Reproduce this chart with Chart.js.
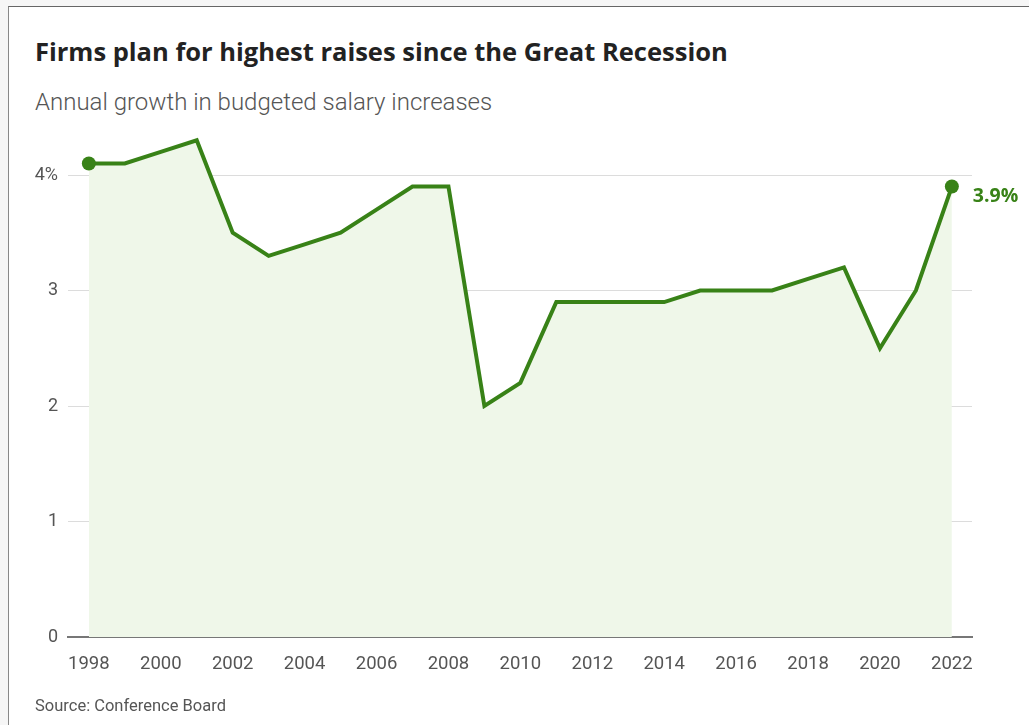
<!DOCTYPE html>
<html>
<head>
<meta charset="utf-8">
<script src="https://cdn.jsdelivr.net/npm/chart.js@4/dist/chart.umd.min.js"></script>
<style>
	html, body { margin: 0; padding: 0; }
	body { width: 1029px; height: 725px; overflow: hidden; background: #f6f6f6; position: relative; font-family: Roboto, "Liberation Sans", sans-serif; }
	#frame { position: absolute; left: 8px; top: 6px; width: 1100px; height: 800px; background: #fff; border-top: 1px solid #666; border-left: 1px solid #888; }
	#chart-container { position: absolute; left: 0; top: 0; width: 1029px; height: 725px; }
	.txt { position: absolute; left: 35px; line-height: 1; white-space: nowrap; }
	#title { top: 38.5px; font-family: "Open Sans", Roboto, sans-serif; font-size: 25.5px; font-weight: 700; color: #222; }
	#subtitle { top: 90px; font-size: 24px; font-weight: 300; color: #555; }
	#source { top: 698px; font-size: 16.5px; color: #555; }
</style>
</head>
<body>
<div id="frame"></div>
<div class="txt" id="title">Firms plan for highest raises since the Great Recession</div>
<div class="txt" id="subtitle">Annual growth in budgeted salary increases</div>
<div id="chart-container"><canvas id="chart" width="1029" height="725"></canvas></div>
<div class="txt" id="source">Source: Conference Board</div>
<script>
	// budgeted salary increase, percent (Conference Board)
	var years = [1998, 1999, 2000, 2001, 2002, 2003, 2004, 2005, 2006, 2007, 2008, 2009, 2010,
		2011, 2012, 2013, 2014, 2015, 2016, 2017, 2018, 2019, 2020, 2021, 2022];
	var raises = [4.1, 4.1, 4.2, 4.3, 3.5, 3.3, 3.4, 3.5, 3.7, 3.9, 3.9, 2.0, 2.2,
		2.9, 2.9, 2.9, 2.9, 3.0, 3.0, 3.0, 3.1, 3.2, 2.5, 3.0, 3.9];
	var yTicks = [0, 1, 2, 3, 4];
	var xTicks = [1998, 2000, 2002, 2004, 2006, 2008, 2010, 2012, 2014, 2016, 2018, 2020, 2022];

	var green = '#388217';

	var points = years.map(function (y, i) {
		return {x: y, y: raises[i]};
	});

	// only the first and last points get a dot
	var radii = points.map(function (p, i) {
		return (i == 0 || i == points.length - 1) ? 7 : 0;
	});

	/* label for the last value, to the right of its dot */
	var endLabel = {
		id: 'endLabel',
		afterDatasetsDraw: function (chart) {
			var meta = chart.getDatasetMeta(0);
			var last = meta.data[meta.data.length - 1];
			var ctx = chart.ctx;
			ctx.save();
			ctx.font = 'bold 19.5px "Open Sans", Roboto, sans-serif';
			ctx.fillStyle = green;
			ctx.textBaseline = 'middle';
			ctx.fillText(raises[raises.length - 1].toFixed(1) + '%', last.x + 21, last.y + 10);
			ctx.restore();
		}
	};

	new Chart(document.getElementById('chart'), {
		type: 'line',
		data: {
			datasets: [{
				data: points,
				borderColor: green,
				borderWidth: 4,
				backgroundColor: '#eff7e9',
				fill: 'origin',
				tension: 0,
				pointRadius: radii,
				pointBackgroundColor: green,
				pointBorderWidth: 0,
				clip: false
			}]
		},
		options: {
			responsive: false,
			animation: false,
			events: [],
			layout: {padding: {top: 128.8, right: 57, bottom: 0, left: 0}},
			plugins: {legend: {display: false}, tooltip: {enabled: false}},
			scales: {
				x: {
					type: 'linear',
					min: 1997.42,
					max: 2022.56,
					afterBuildTicks: function (scale) {
						scale.ticks = xTicks.map(function (v) { return {value: v}; });
					},
					afterFit: function (scale) { scale.height = 88; },
					grid: {display: false},
					border: {display: true, color: '#777', width: 2},
					ticks: {
						padding: 8,
						maxRotation: 0,
						autoSkip: false,
						color: '#555',
						font: {family: 'Roboto', size: 18.5},
						callback: function (v) { return String(v); }
					}
				},
				y: {
					min: 0,
					max: 4.4,
					afterBuildTicks: function (scale) {
						scale.ticks = yTicks.map(function (v) { return {value: v}; });
					},
					afterFit: function (scale) { scale.width = 68; },
					grid: {
						drawTicks: false,
						color: function (c) { return c.tick.value == 0 ? 'rgba(0,0,0,0)' : '#dcdcdc'; },
						lineWidth: 1
					},
					border: {display: false},
					ticks: {
						padding: 10,
						color: '#555',
						font: {family: 'Roboto', size: 18},
						callback: function (v) { return v == 4 ? '4%' : String(v); }
					}
				}
			}
		},
		plugins: [endLabel]
	});
</script>
</body>
</html>
